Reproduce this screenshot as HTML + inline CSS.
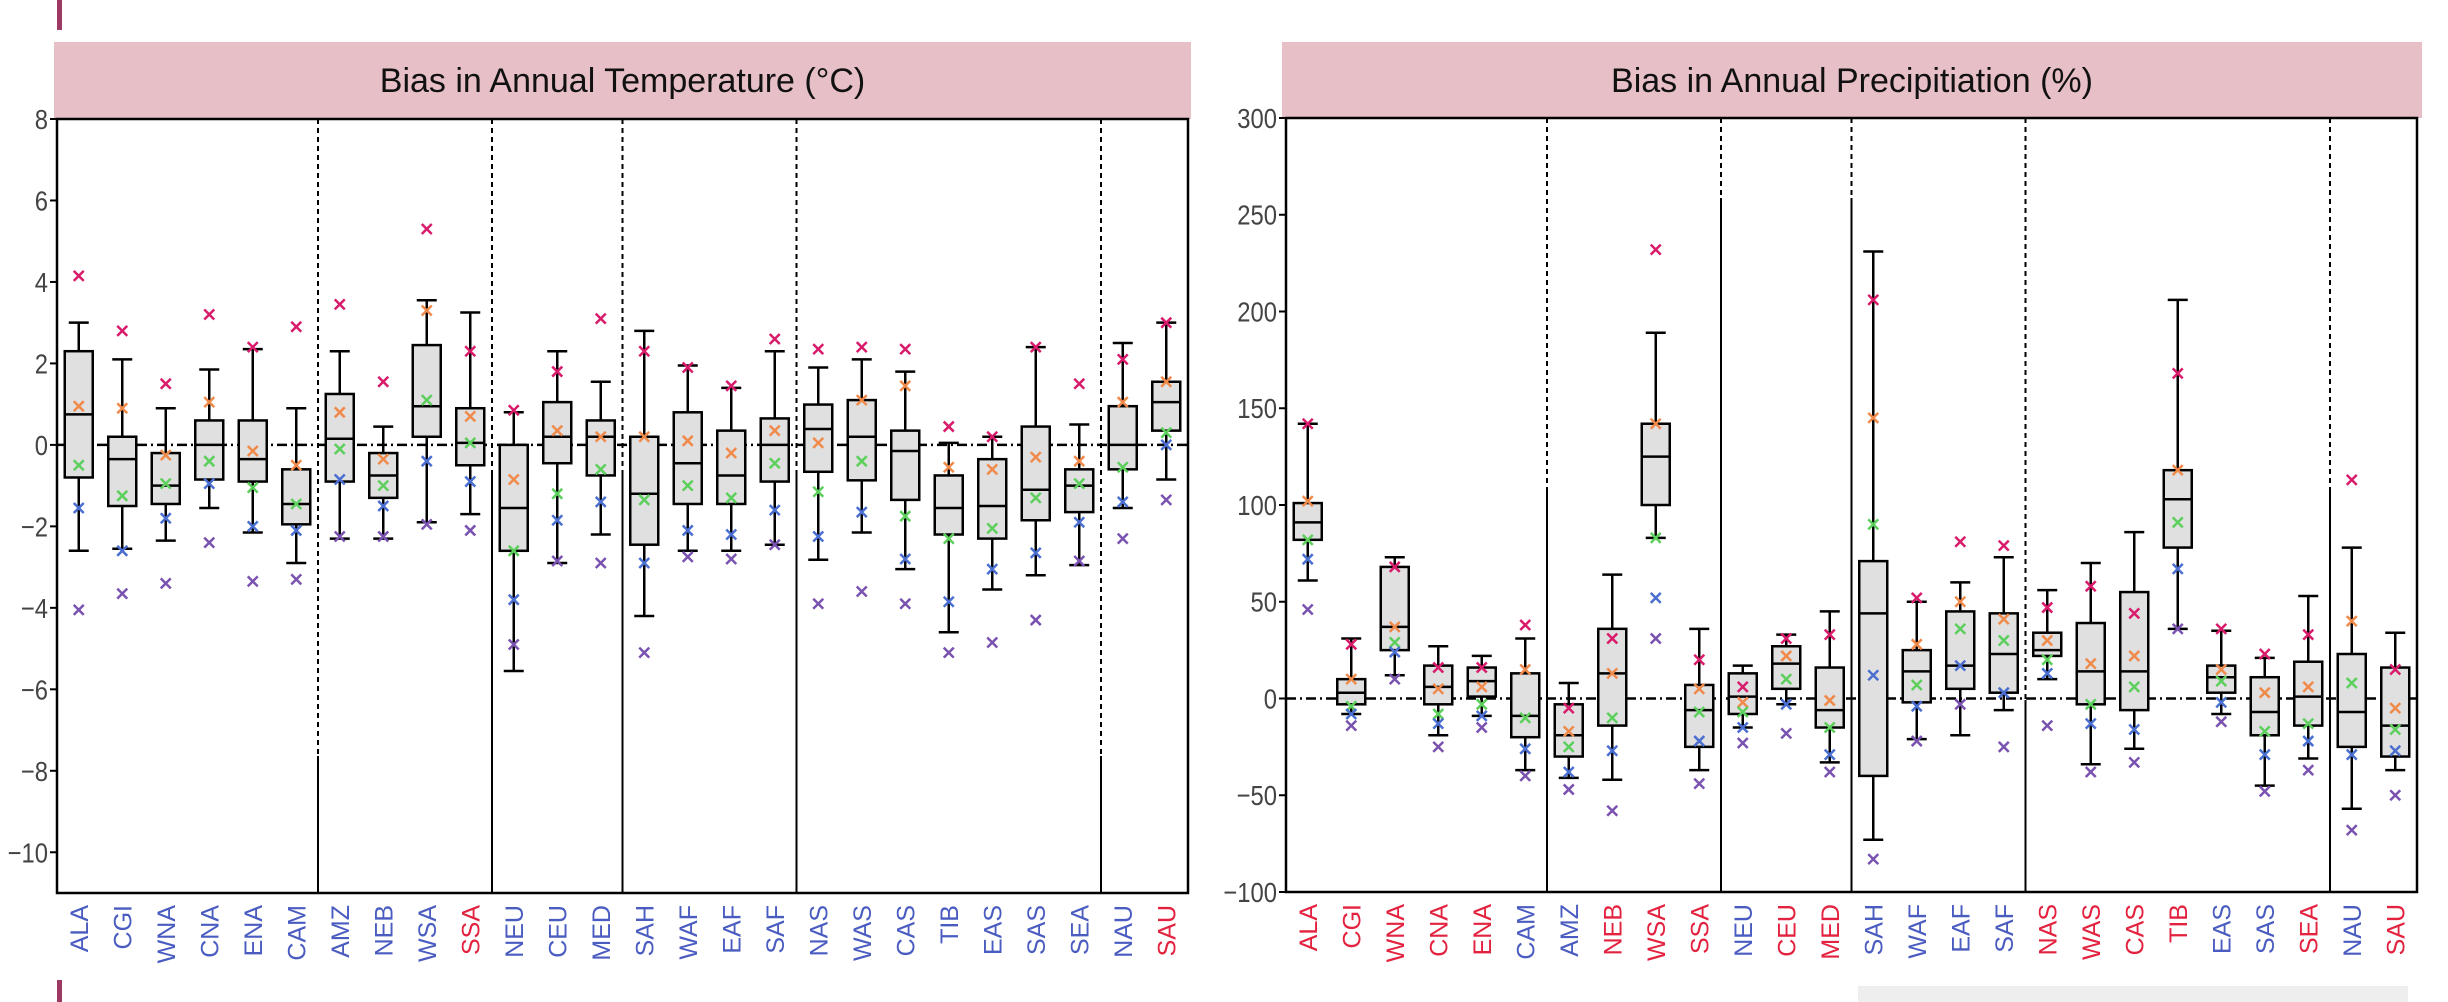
<!DOCTYPE html>
<html><head><meta charset="utf-8"><style>
html,body{margin:0;padding:0;background:#fff;}
svg{display:block;}
</style></head><body>
<svg id="fig" width="2448" height="1002" viewBox="0 0 2448 1002" xmlns="http://www.w3.org/2000/svg" font-family="Liberation Sans, sans-serif">
<rect x="57" y="0" width="5" height="30" fill="#9c3a64"/>
<rect x="57" y="980" width="5" height="22" fill="#9c3a64"/>
<rect x="1858" y="986" width="550" height="16" fill="#eeeeee"/>
<g id="left"></g>
<g id="right"></g>
</svg>
<script>
const cats = ["ALA","CGI","WNA","CNA","ENA","CAM","AMZ","NEB","WSA","SSA","NEU","CEU","MED","SAH","WAF","EAF","SAF","NAS","WAS","CAS","TIB","EAS","SAS","SEA","NAU","SAU"];
const separators = [6,10,13,17,24];
const tempLabelRed = ["SSA","SAU"];
const precLabelRed = ["ALA","CGI","WNA","CNA","ENA","NEB","WSA","SSA","CEU","MED","NAS","WAS","CAS","TIB","SEA","SAU"];

const tempTicks = [8,6,4,2,0,-2,-4,-6,-8,-10];
const tQ3  = [2.3,0.2,-0.2,0.6,0.6,-0.6,1.25,-0.2,2.45,0.9,0,1.05,0.6,0.2,0.8,0.35,0.65,0.99,1.1,0.35,-0.75,-0.35,0.45,-0.6,0.95,1.55];
const tMed = [0.75,-0.35,-1.0,0,-0.35,-1.45,0.15,-0.75,0.95,0.05,-1.55,0.2,0.2,-1.2,-0.45,-0.75,0,0.39,0.2,-0.15,-1.55,-1.5,-1.1,-1.0,0,1.05];
const tQ1  = [-0.8,-1.5,-1.45,-0.85,-0.9,-1.95,-0.9,-1.3,0.2,-0.5,-2.6,-0.45,-0.75,-2.45,-1.45,-1.45,-0.9,-0.66,-0.87,-1.35,-2.2,-2.3,-1.85,-1.65,-0.6,0.35];
const tHi  = [3.0,2.1,0.9,1.85,2.35,0.9,2.3,0.45,3.55,3.25,0.8,2.3,1.55,2.8,1.95,1.4,2.3,1.9,2.1,1.8,0.05,0.2,2.4,0.5,2.5,3.0];
const tLo  = [-2.6,-2.55,-2.35,-1.55,-2.15,-2.9,-2.3,-2.3,-1.9,-1.7,-5.55,-2.9,-2.2,-4.2,-2.6,-2.6,-2.45,-2.82,-2.15,-3.05,-4.6,-3.55,-3.2,-2.95,-1.55,-0.85];
const tMag = [4.15,2.8,1.5,3.2,2.4,2.9,3.45,1.55,5.3,2.3,0.85,1.8,3.1,2.3,1.9,1.45,2.6,2.35,2.4,2.35,0.45,0.2,2.4,1.5,2.1,3.0];
const tOra = [0.95,0.9,-0.25,1.05,-0.15,-0.5,0.8,-0.35,3.3,0.7,-0.85,0.35,0.2,0.2,0.1,-0.2,0.35,0.05,1.1,1.45,-0.55,-0.6,-0.3,-0.4,1.05,1.55];
const tGrn = [-0.5,-1.25,-0.95,-0.4,-1.05,-1.45,-0.1,-1.0,1.1,0.05,-2.6,-1.2,-0.6,-1.35,-1.0,-1.3,-0.45,-1.15,-0.4,-1.75,-2.3,-2.05,-1.3,-0.95,-0.55,0.3];
const tBlu = [-1.55,-2.6,-1.8,-0.95,-2.0,-2.1,-0.85,-1.5,-0.4,-0.9,-3.8,-1.85,-1.4,-2.9,-2.1,-2.2,-1.6,-2.25,-1.65,-2.8,-3.85,-3.05,-2.65,-1.9,-1.4,0.0];
const tPur = [-4.05,-3.65,-3.4,-2.4,-3.35,-3.3,-2.25,-2.25,-1.95,-2.1,-4.9,-2.85,-2.9,-5.1,-2.75,-2.8,-2.45,-3.9,-3.6,-3.9,-5.1,-4.85,-4.3,-2.85,-2.3,-1.35];

const precTicks = [300,250,200,150,100,50,0,-50,-100];
const pQ3  = [101,10,68,17,16,13,-3,36,142,7,13,27,16,71,25,45,44,34,39,55,118,17,11,19,23,16];
const pMed = [91,3,37,6,9,-9,-19,13,125,-6,1,18,-6,44,14,17,23,25,14,14,103,11,-7,1,-7,-14];
const pQ1  = [82,-3,25,-3,1,-20,-30,-14,100,-25,-8,5,-15,-40,-2,5,3,22,-3,-6,78,3,-19,-14,-25,-30];
const pHi  = [142,31,73,27,22,31,8,64,189,36,17,33,45,231,50,60,73,56,70,86,206,35,21,53,78,34];
const pLo  = [61,-8,12,-19,-9,-37,-41,-42,83,-37,-15,-3,-33,-73,-21,-19,-6,10,-34,-26,36,-8,-45,-31,-57,-37];
const pMag = [142,28,68,16,16,38,-5,31,232,20,6,31,33,206,52,81,79,47,58,44,168,36,23,33,113,15];
const pOra = [102,10,37,5,6,15,-17,13,142,5,-2,22,-1,145,28,50,41,30,18,22,118,15,3,6,40,-5];
const pGrn = [82,-4,29,-8,-3,-10,-25,-10,83,-7,-7,10,-15,90,7,36,30,20,-3,6,91,9,-17,-13,8,-16];
const pBlu = [72,-8,24,-13,-9,-26,-38,-27,52,-22,-15,-3,-29,12,-4,17,3,13,-13,-16,67,-2,-29,-22,-29,-27];
const pPur = [46,-14,10,-25,-15,-40,-47,-58,31,-44,-23,-18,-38,-83,-22,-3,-25,-14,-38,-33,36,-12,-48,-37,-68,-50];

const markerColors = ["#d81b6a","#f08a4b","#5ccf5c","#4a6fd0","#7a52b0"];
const NS = "http://www.w3.org/2000/svg";
function mk(tag, attrs, parent){const e=document.createElementNS(NS,tag);for(const k in attrs)e.setAttribute(k,attrs[k]);parent.appendChild(e);return e;}

function drawChart(g, cfg){
  const {x0,x1,yTop,yBot,vMax,vMin,ticks,title,redLabels,q1,med,q3,lo,hi,series,dashEnd} = cfg;
  const y = v => yTop + (vMax - v)/(vMax - vMin)*(yBot - yTop);
  const bw = (x1-x0)/cats.length;
  const x = i => x0 + bw*(i+0.5);
  const banner = mk('rect',{x:cfg.bx0,y:42,width:cfg.bx1-cfg.bx0,height:yTop-42,fill:"#e6bfc7"},g);
  
  
  const t = mk('text',{x:(cfg.bx0+cfg.bx1)/2,y:92,'text-anchor':'middle','font-size':34,fill:'#111'},g);
  t.textContent = title;
  
  
  const z = mk('line',{x1:x0,x2:x1,y1:y(0),y2:y(0),stroke:'#000','stroke-width':2.5,'stroke-dasharray':'10 4 2 4'},g);
  
  
  separators.forEach((s,k)=>{
    const sx = x0 + bw*s;
    const de = dashEnd[k];
    const l1 = mk('line',{x1:sx,x2:sx,y1:yTop,y2:de,stroke:'#000','stroke-width':2,'stroke-dasharray':'5 4'},g);
    
    
    const l2 = mk('line',{x1:sx,x2:sx,y1:de,y2:yBot,stroke:'#000','stroke-width':2},g);
    
    
  });
  ticks.forEach(v=>{
    const tk = mk('line',{x1:x0-7,x2:x0,y1:y(v),y2:y(v),stroke:'#000','stroke-width':2},g);
    
    
    const tl = mk('text',{x:x0-9,y:y(v)+10,'text-anchor':'end','font-size':28,fill:'#444',transform:`translate(${x0-9},0) scale(0.85,1) translate(${-(x0-9)},0)`},g);
    tl.textContent = (v<0?'\u2212':'')+Math.abs(v);
    
    
  });
  cats.forEach((c,i)=>{
    const cx = x(i);
    const wg = mk('g',{},g);
    
    
    mk('line',{x1:cx,x2:cx,y1:y(hi[i]),y2:y(q3[i]),stroke:'#000','stroke-width':2.5},wg);
    mk('line',{x1:cx,x2:cx,y1:y(q1[i]),y2:y(lo[i]),stroke:'#000','stroke-width':2.5},wg);
    mk('line',{x1:cx-10,x2:cx+10,y1:y(hi[i]),y2:y(hi[i]),stroke:'#000','stroke-width':2.5},wg);
    mk('line',{x1:cx-10,x2:cx+10,y1:y(lo[i]),y2:y(lo[i]),stroke:'#000','stroke-width':2.5},wg);
    mk('rect',{x:cx-14,y:y(q3[i]),width:28,height:Math.max(1,y(q1[i])-y(q3[i])),fill:'#e0e0e0',stroke:'#000','stroke-width':2.5},wg);
    mk('line',{x1:cx-14,x2:cx+14,y1:y(med[i]),y2:y(med[i]),stroke:'#000','stroke-width':2.5},wg);
    series.forEach((arr,k)=>{
      const my = y(arr[i]);
      const m = mk('path',{d:`M${cx-5},${my-5}L${cx+5},${my+5}M${cx-5},${my+5}L${cx+5},${my-5}`,stroke:markerColors[k],'stroke-width':2.5,fill:'none'},g);
      
      
    });
    const lbl = mk('text',{x:0,y:0,'text-anchor':'end','font-size':25,fill:redLabels.includes(c)?'#e3223f':'#4a5cc0',transform:`translate(${cx+9},${yBot+12}) rotate(-90)`},g);
    lbl.textContent = c;
    
    
  });
  const frame = mk('rect',{x:x0,y:yTop,width:x1-x0,height:yBot-yTop,fill:'none',stroke:'#000','stroke-width':2.5},g);
  
  
}

drawChart(document.getElementById('left'),{x0:57,x1:1188,yTop:119,yBot:893,vMax:8,vMin:-11,ticks:tempTicks,
  title:"Bias in Annual Temperature (\u00B0C)",redLabels:tempLabelRed,bx0:54,bx1:1191,
  q1:tQ1,med:tMed,q3:tQ3,lo:tLo,hi:tHi,series:[tMag,tOra,tGrn,tBlu,tPur],dashEnd:[756,470,470,470,756]});
drawChart(document.getElementById('right'),{x0:1286,x1:2417,yTop:118,yBot:892,vMax:300,vMin:-100,ticks:precTicks,
  title:"Bias in Annual Precipitiation (%)",redLabels:precLabelRed,bx0:1282,bx1:2422,
  q1:pQ1,med:pMed,q3:pQ3,lo:pLo,hi:pHi,series:[pMag,pOra,pGrn,pBlu,pPur],dashEnd:[492,198,198,700,492]});
</script>
</body></html>
